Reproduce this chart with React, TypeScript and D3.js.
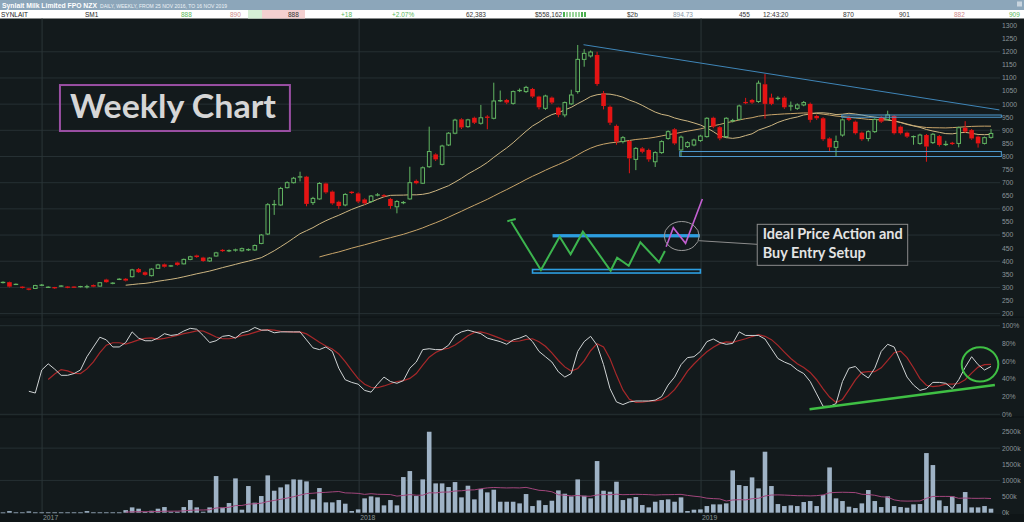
import React from "react";
import * as d3 from "d3";

// ---------------- DATA (weekly, 25 Nov 2016 – 16 Nov 2019) ----------------
const weekOpen = [
  318, 320, 311, 302, 295, 296, 308, 300, 300, 304, 302, 302, 302, 302, 309, 305, 330, 315, 330, 333,
  341, 370, 358, 345, 373, 388, 381, 395, 390, 407, 422, 414, 401, 420, 443, 439, 442, 440, 443, 443,
  468, 504, 615, 615, 681, 700, 720, 723, 624, 638, 697, 666, 627, 615, 664, 659, 636, 628, 652, 651,
  638, 608, 623, 638, 707, 698, 761, 808, 770, 844, 889, 942, 914, 948, 927, 951, 946, 1012, 1016, 1003,
  1051, 1048, 1058, 1029, 984, 1025, 987, 959, 1001, 1048, 1171, 1184, 1188, 1041, 990, 917, 857, 859, 789, 831,
  825, 780, 815, 869, 904, 825, 838, 844, 861, 876, 948, 912, 876, 936, 942, 1007, 1016, 1010, 1076, 1025,
  1021, 1025, 992, 984, 997, 1001, 955, 946, 869, 835, 882, 950, 933, 891, 869, 895, 950, 942, 955, 914,
  891, 875, 850, 882, 853, 878, 845, 851, 850, 910, 901, 876, 850, 873,
];
const weekClose = [
  320, 303, 312, 299, 292, 307, 309, 301, 298, 306, 300, 300, 304, 303, 303, 318, 320, 317, 332, 326,
  367, 358, 348, 370, 386, 379, 383, 386, 407, 417, 416, 401, 412, 432, 439, 441, 444, 448, 445, 460,
  500, 616, 618, 678, 700, 717, 724, 619, 640, 697, 663, 621, 611, 655, 662, 628, 621, 649, 654, 649,
  611, 628, 625, 700, 698, 757, 819, 789, 840, 889, 939, 911, 940, 929, 948, 949, 1012, 1014, 1006, 1048,
  1053, 1064, 1029, 988, 1031, 1006, 959, 1006, 1035, 1171, 1194, 1199, 1077, 993, 929, 857, 872, 793, 831, 818,
  789, 815, 857, 895, 850, 874, 853, 863, 878, 946, 914, 869, 946, 938, 993, 1005, 1006, 1080, 1001, 1001,
  1023, 988, 994, 997, 1006, 940, 946, 866, 835, 857, 940, 940, 889, 866, 895, 942, 933, 959, 889, 889,
  876, 877, 882, 838, 885, 844, 847, 849, 910, 895, 869, 850, 872, 888,
];
const weekHigh = [
  323, 322, 315, 304, 297, 310, 313, 304, 302, 309, 304, 304, 306, 310, 311, 320, 333, 320, 335, 336,
  371, 374, 361, 373, 390, 391, 386, 398, 410, 421, 425, 417, 415, 436, 446, 445, 448, 452, 449, 464,
  504, 622, 634, 684, 705, 722, 742, 726, 646, 702, 700, 670, 631, 660, 667, 663, 640, 653, 660, 656,
  642, 633, 630, 761, 712, 762, 914, 812, 845, 893, 944, 946, 944, 952, 997, 958, 1082, 1052, 1020, 1052,
  1060, 1070, 1062, 1032, 1036, 1029, 990, 1010, 1055, 1226, 1210, 1205, 1200, 1050, 995, 922, 878, 863, 836, 836,
  830, 820, 862, 900, 908, 880, 858, 868, 883, 950, 952, 916, 950, 944, 998, 1024, 1020, 1090, 1115, 1040,
  1030, 1030, 1010, 1003, 1012, 1006, 960, 950, 873, 880, 945, 955, 937, 895, 900, 946, 954, 975, 958, 918,
  895, 880, 887, 886, 890, 882, 860, 856, 914, 935, 905, 880, 876, 905,
];
const weekLow = [
  315, 300, 309, 296, 289, 294, 305, 298, 295, 302, 297, 298, 300, 296, 301, 303, 318, 312, 328, 323,
  338, 355, 345, 342, 371, 376, 378, 383, 388, 404, 413, 398, 398, 418, 436, 435, 437, 437, 439, 440,
  465, 500, 577, 612, 678, 697, 705, 610, 615, 635, 658, 616, 600, 610, 657, 622, 616, 624, 648, 645,
  600, 583, 618, 635, 694, 695, 757, 783, 766, 840, 885, 905, 910, 924, 922, 904, 942, 1008, 1000, 998,
  1046, 1043, 1024, 980, 978, 1000, 950, 950, 997, 1040, 1143, 1178, 1070, 980, 920, 845, 850, 736, 748, 812,
  780, 760, 810, 864, 845, 800, 833, 839, 856, 872, 908, 862, 870, 930, 938, 1000, 1001, 1005, 945, 996,
  1015, 982, 975, 978, 992, 930, 940, 860, 820, 800, 876, 935, 884, 860, 858, 890, 928, 938, 884, 884,
  871, 845, 845, 780, 848, 838, 840, 844, 835, 890, 864, 834, 846, 868,
];
const weekVolumeK = [
  8, 50, 10, 10, 40, 10, 10, 10, 10, 10, 10, 10, 10, 50, 10, 10, 10, 10, 10, 80,
  165, 124, 20, 60, 124, 175, 30, 30, 175, 392, 165, 30, 165, 1135, 155, 300, 1063, 93, 826, 310,
  516, 1156, 681, 784, 877, 1032, 1022, 970, 413, 764, 320, 320, 392, 279, 52, 103, 444, 506, 475, 227,
  392, 227, 1104, 1290, 516, 1032, 2508, 908, 908, 795, 949, 475, 836, 413, 733, 630, 712, 340, 340, 340,
  289, 578, 206, 382, 237, 371, 691, 588, 506, 1032, 526, 444, 1600, 681, 650, 960, 392, 444, 485, 237,
  165, 340, 392, 413, 340, 475, 52, 93, 103, 206, 258, 258, 289, 1311, 857, 826, 1094, 753, 1889, 826,
  268, 206, 227, 206, 330, 361, 206, 547, 1403, 444, 361, 186, 144, 289, 702, 361, 175, 506, 206, 175,
  155, 258, 268, 1847, 1476, 382, 206, 506, 268, 640, 165, 165, 206, 124,
];
const stochK: (number | null)[] = [
  null, null, null, null, 26, 24, 50, 57, 51, 44, 44, 46, 50, 65, 76, 87, 84, 76, 76, 81,
  93, 86, 83, 83, 86, 91, 89, 90, 94, 97, 96, 89, 81, 83, 88, 89, 86, 92, 94, 98,
  95, 95, 92, 93, 93, 93, 93, 84, 75, 73, 76, 71, 52, 39, 36, 34, 27, 25, 34, 42,
  37, 35, 38, 52, 59, 73, 74, 73, 73, 78, 89, 93, 95, 93, 91, 86, 84, 82, 79, 84,
  86, 89, 82, 71, 65, 59, 48, 42, 46, 71, 82, 88, 78, 56, 29, 14, 11, 14, 15, 15,
  15, 16, 20, 33, 42, 56, 64, 65, 71, 82, 85, 81, 79, 80, 93, 89, 89, 89, 85, 74,
  63, 59, 56, 50, 46, 37, 23, 9, 9, 12, 37, 52, 54, 46, 41, 52, 71, 79, 76, 59,
  42, 33, 27, 29, 36, 36, 35, 29, 39, 53, 65, 56, 50, 54,
];

const priceTicks = [200, 250, 300, 350, 400, 450, 500, 550, 600, 650, 700, 750, 800, 850, 900, 950, 1000, 1050, 1100, 1150, 1200, 1250, 1300];
const priceGrid = [200, 300, 400, 500, 600, 700, 800, 900, 1000, 1100, 1200];
const stochTicks = [0, 20, 40, 60, 80, 100];
const volumeTicks = [0, 500, 1000, 1500, 2000, 2500];
const yearLabels = ["2017", "2018", "2019"];
const yearWeeks = [6.05, 55.15, 108.1];

// annotation anchors (week index, price)
const trendFrom = [89.9, 1227];
const trendTo = [154.3, 978];
const upperChannel = { w0: 129.9, w1: 154.6, p0: 958.5, p1: 950 };
const lowerChannel = { w0: 104.8, w1: 154.6, p0: 819, p1: 800 };
const zigzag: [number, number][] = [
  [78.7, 551], [83.3, 366.5], [86.2, 493.7], [87.9, 426.4], [89.8, 512.8], [94.1, 363.8],
  [95.1, 413.4], [96.9, 382.9], [98.7, 472.3], [101.6, 395.9], [102.5, 439],
];
const zigTick: [number, number][] = [[78.1, 553], [79.4, 561]];
const breakout: [number, number][] = [[102.7, 455.5], [103.8, 528], [105.7, 468.5], [108.3, 637.8]];
const resistanceBar = { w0: 85.1, w1: 107.9, p: 497.5 };
const supportBar = { w0: 82.0, w1: 108.0, p0: 368.4, p1: 355 };
const focusCircle = { w: 105.1, p: 496.3 };
const connector: [number, number][] = [[107.8, 478.4], [116.8, 464.6]];
const noteBox = { w0: 116.8, w1: 140.1, p0: 541, p1: 384.4 };
const weeklyBox = { w0: 8.82, w1: 44.43, p0: 1073, p1: 897.4 };
const stochTrend = [[124.9, 5.6], [153.6, 33]];
const stochCircle = { w: 151.3, v: 56.4 };

const headerCells = [
  { t: "SYNLAIT", x: 1, c: "#222" },
  { t: "SM1", x: 85, c: "#222" },
  { t: "888", x: 181, c: "#5cb85c" },
  { t: "890", x: 230, c: "#d08a8a" },
  { t: "888", x: 288, c: "#333" },
  { t: "+18", x: 341, c: "#5cb85c" },
  { t: "+2.07%", x: 392, c: "#5cb85c" },
  { t: "62,383", x: 466, c: "#333" },
  { t: "$558,162", x: 535, c: "#333" },
  { t: "$2b", x: 627, c: "#333" },
  { t: "894.73", x: 673, c: "#8a9aaa" },
  { t: "455", x: 739, c: "#333" },
  { t: "12:43:20", x: 763, c: "#333" },
  { t: "870", x: 843, c: "#333" },
  { t: "901", x: 899, c: "#333" },
  { t: "882", x: 954, c: "#d08a8a" },
  { t: "909", x: 1009, c: "#5cb85c" },
];

function sma(arr: (number | null)[], n: number): (number | null)[] {
  return arr.map((_, i) => {
    if (i < n - 1) return null;
    const win = arr.slice(i - n + 1, i + 1);
    if (win.some((v) => v == null)) return null;
    return d3.mean(win as number[]) as number;
  });
}

export default function App() {
  const N = weekClose.length;
  const x = d3.scaleLinear().domain([0, N - 1]).range([3, 991]);
  const yP = d3.scaleLinear().domain([200, 1300]).range([313.6, 25.6]);
  const yS = d3.scaleLinear().domain([0, 100]).range([414.3, 325.7]);
  const yV = d3.scaleLinear().domain([0, 2500]).range([512.7, 432]);

  const ma20 = sma(weekClose, 20);
  const ma50 = sma(weekClose, 50);
  const volMa = sma(weekVolumeK, 20);
  const stochD = sma(stochK, 4);

  const lineP = d3
    .line<number | null>()
    .defined((d) => d != null)
    .x((_, i) => x(i))
    .y((d) => yP(d as number));
  const lineS = d3
    .line<number | null>()
    .defined((d) => d != null)
    .x((_, i) => x(i))
    .y((d) => yS(d as number));
  const lineV = d3
    .line<number | null>()
    .defined((d) => d != null)
    .x((_, i) => x(i))
    .y((d) => yV(d as number));
  const pathWP = d3.line<[number, number]>().x((d) => x(d[0])).y((d) => yP(d[1]));

  const GREEN = "#62b562";
  const RED = "#e51414";
  const BG = "#131a1c";
  const GRID = "#263033";
  const AXIS = "#8b9599";
  const axisFont = "'Liberation Sans', Arial, sans-serif";

  const bw = 4.6;

  const wbx0 = x(weeklyBox.w0), wbx1 = x(weeklyBox.w1), wby0 = yP(weeklyBox.p0), wby1 = yP(weeklyBox.p1);
  const nbx0 = x(noteBox.w0), nbx1 = x(noteBox.w1), nby0 = yP(noteBox.p0), nby1 = yP(noteBox.p1);

  return (
    <svg
      width={1024}
      height={522}
      style={{ position: "fixed", left: 0, top: 0, display: "block" }}
      xmlns="http://www.w3.org/2000/svg"
    >
      {/* backgrounds */}
      <rect x={0} y={0} width={1024} height={522} fill="#0f1517" />
      <rect x={0} y={18.5} width={1024} height={298} fill={BG} />
      <rect x={0} y={318} width={1024} height={98} fill={BG} />
      <rect x={0} y={418} width={1024} height={96} fill={BG} />

      {/* header */}
      <rect x={0} y={0} width={1024} height={10} fill="#8ca6ba" />
      <text x={2} y={8} fill="#ffffff" fontSize={7.5} fontWeight={700} fontFamily={axisFont} textLength={95} lengthAdjust="spacingAndGlyphs">
        Synlait Milk Limited FPO NZX
      </text>
      <text x={100} y={7.6} fill="#eef3f7" fontSize={5} fontFamily={axisFont} textLength={127} lengthAdjust="spacingAndGlyphs">
        DAILY, WEEKLY, FROM 25 NOV 2016, TO 16 NOV 2019
      </text>
      <rect x={1017} y={1.5} width={5} height={5} fill="#c8d4de" />
      <rect x={0} y={10} width={1024} height={8.5} fill="#ffffff" />
      <rect x={248} y={10} width={14} height={8.5} fill="#d6efd6" />
      <rect x={262} y={10} width={43} height={8.5} fill="#f4d0d0" />
      {[0, 1, 2, 3, 4, 5, 6, 7].map((k) => (
        <rect key={k} x={563 + k * 3} y={12} width={2} height={5} fill={k === 0 || k === 6 || k === 7 ? "#4caf50" : "#9ad39a"} />
      ))}
      {headerCells.map((h, i) => (
        <text key={i} x={h.x} y={16.6} fill={h.c} fontSize={6.5} fontFamily={axisFont}>
          {h.t}
        </text>
      ))}

      {/* grid */}
      {priceGrid.map((p) => (
        <line key={p} x1={0} x2={1000} y1={yP(p)} y2={yP(p)} stroke={GRID} strokeWidth={1} />
      ))}
      {[0, 100].map((v) => (
        <line key={v} x1={0} x2={1000} y1={yS(v)} y2={yS(v)} stroke={GRID} strokeWidth={1} />
      ))}
      {[1000, 2000].map((v) => (
        <line key={v} x1={0} x2={1000} y1={yV(v)} y2={yV(v)} stroke={GRID} strokeWidth={1} />
      ))}
      {yearWeeks.map((w, i) => (
        <line key={i} x1={x(w)} x2={x(w)} y1={18.5} y2={514} stroke="#2b3538" strokeWidth={1} />
      ))}

      {/* axis labels */}
      {priceTicks.map((p) => (
        <text key={p} x={1002} y={yP(p)} dy="0.35em" fill={AXIS} fontSize={6.8} fontFamily={axisFont}>
          {p}
        </text>
      ))}
      {stochTicks.map((v) => (
        <text key={v} x={1002} y={yS(v)} dy="0.35em" fill={AXIS} fontSize={6.8} fontFamily={axisFont}>
          {v}%
        </text>
      ))}
      {volumeTicks.map((v) => (
        <text key={v} x={1002} y={yV(v)} dy="0.35em" fill={AXIS} fontSize={6.8} fontFamily={axisFont}>
          {v}k
        </text>
      ))}
      {yearLabels.map((l, i) => (
        <text key={l} x={x(yearWeeks[i]) + 1} y={520} fill={AXIS} fontSize={6.8} fontFamily={axisFont}>
          {l}
        </text>
      ))}

      {/* moving averages */}
      <path d={lineP(ma50) || ""} fill="none" stroke="#c9a56a" strokeWidth={1} />
      <path d={lineP(ma20) || ""} fill="none" stroke="#cdb682" strokeWidth={1} />

      {/* candles */}
      {weekClose.map((c, i) => {
        const o = weekOpen[i];
        const up = c >= o;
        const col = up ? GREEN : RED;
        const top = yP(Math.max(o, c));
        const bot = yP(Math.min(o, c));
        const cx = x(i);
        const h = bot - top;
        return (
          <g key={i}>
            <line x1={cx} x2={cx} y1={yP(weekHigh[i])} y2={top} stroke={col} strokeWidth={1} />
            <line x1={cx} x2={cx} y1={bot} y2={yP(weekLow[i])} stroke={col} strokeWidth={1} />
            {h < 1.5 ? (
              <line x1={cx - bw / 2} x2={cx + bw / 2} y1={(top + bot) / 2} y2={(top + bot) / 2} stroke={col} strokeWidth={1.3} />
            ) : up ? (
              <rect x={cx - (bw - 1) / 2} y={top} width={bw - 1} height={h} fill={BG} stroke={col} strokeWidth={1} />
            ) : (
              <rect x={cx - bw / 2} y={top} width={bw} height={h} fill={col} />
            )}
          </g>
        );
      })}

      {/* price annotations */}
      <line x1={x(trendFrom[0])} y1={yP(trendFrom[1])} x2={x(trendTo[0])} y2={yP(trendTo[1])} stroke="#3f86b8" strokeWidth={1} />
      <rect
        x={x(upperChannel.w0)}
        y={yP(upperChannel.p0)}
        width={x(upperChannel.w1) - x(upperChannel.w0)}
        height={yP(upperChannel.p1) - yP(upperChannel.p0)}
        fill="none"
        stroke="#4f9bd0"
        strokeWidth={1}
      />
      <rect
        x={x(lowerChannel.w0)}
        y={yP(lowerChannel.p0)}
        width={x(lowerChannel.w1) - x(lowerChannel.w0)}
        height={yP(lowerChannel.p1) - yP(lowerChannel.p0)}
        fill="none"
        stroke="#4f9bd0"
        strokeWidth={1}
      />

      {/* weekly chart label */}
      <rect x={wbx0} y={wby0} width={wbx1 - wbx0} height={wby1 - wby0} fill="none" stroke="#9a4fa3" strokeWidth={2} />
      <text x={wbx0 + 10} y={wby0 + 32.5} fill="#d6d6d6" fontSize={33} fontWeight={700} fontFamily="Lato, 'Open Sans', sans-serif" textLength={206} lengthAdjust="spacingAndGlyphs">
        Weekly Chart
      </text>

      {/* schematic */}
      <rect
        x={x(resistanceBar.w0)}
        y={yP(resistanceBar.p) - 1.6}
        width={x(resistanceBar.w1) - x(resistanceBar.w0)}
        height={3.3}
        fill="#2d9ee0"
      />
      <rect
        x={x(supportBar.w0)}
        y={yP(supportBar.p0)}
        width={x(supportBar.w1) - x(supportBar.w0)}
        height={yP(supportBar.p1) - yP(supportBar.p0)}
        fill="none"
        stroke="#2d9ee0"
        strokeWidth={1.6}
      />
      <path d={pathWP(zigzag) || ""} fill="none" stroke="#3cb44e" strokeWidth={2} strokeLinejoin="miter" />
      <path d={pathWP(zigTick) || ""} fill="none" stroke="#3cb44e" strokeWidth={2} />
      <path d={pathWP(breakout) || ""} fill="none" stroke="#c25fd0" strokeWidth={1.6} />
      <ellipse cx={x(focusCircle.w)} cy={yP(focusCircle.p)} rx={17.5} ry={14.5} fill="none" stroke="#9a9a9a" strokeWidth={1} />
      <path d={pathWP(connector) || ""} fill="none" stroke="#8c8c8c" strokeWidth={1} />
      <rect x={nbx0} y={nby0} width={nbx1 - nbx0} height={nby1 - nby0} fill={BG} stroke="#8c8c8c" strokeWidth={1} />
      <text x={nbx0 + 5.5} y={nby0 + 15} fill="#e4e4e4" fontSize={14.5} fontWeight={700} fontFamily="Lato, 'Open Sans', sans-serif" textLength={140} lengthAdjust="spacingAndGlyphs">
        Ideal Price Action and
      </text>
      <text x={nbx0 + 5.5} y={nby0 + 33.5} fill="#e4e4e4" fontSize={14.5} fontWeight={700} fontFamily="Lato, 'Open Sans', sans-serif" textLength={103} lengthAdjust="spacingAndGlyphs">
        Buy Entry Setup
      </text>

      {/* stochastic */}
      <path d={lineS(stochD) || ""} fill="none" stroke="#a8282a" strokeWidth={1.2} />
      <path d={lineS(stochK) || ""} fill="none" stroke="#cfd3d4" strokeWidth={1} />
      <line
        x1={x(stochTrend[0][0])}
        y1={yS(stochTrend[0][1])}
        x2={x(stochTrend[1][0])}
        y2={yS(stochTrend[1][1])}
        stroke="#3fbf44"
        strokeWidth={2.5}
      />
      <ellipse cx={x(stochCircle.w)} cy={yS(stochCircle.v)} rx={18.3} ry={17.2} fill="none" stroke="#3fbf44" strokeWidth={2} />

      {/* volume */}
      {weekVolumeK.map((v, i) => (
        <rect key={i} x={x(i) - bw / 2} y={yV(v)} width={bw} height={Math.max(yV(0) - yV(v), 0.8)} fill="#9fb3c6" />
      ))}
      <path d={lineV(volMa) || ""} fill="none" stroke="#a2467c" strokeWidth={1} />
    </svg>
  );
}
